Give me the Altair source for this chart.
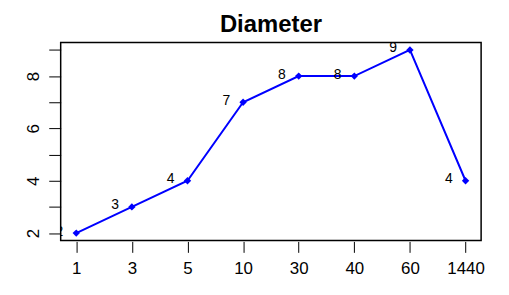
import altair as alt
import pandas as pd

times = ["1", "3", "5", "10", "30", "40", "60", "1440"]
diameter = [2, 3, 4, 7, 8, 8, 9, 4]

df = pd.DataFrame({"time": times, "idx": list(range(len(times))), "d": diameter})

FONT = "Liberation Sans"
W, H = 423, 199

x = alt.X("idx:Q", scale=alt.Scale(domain=[-0.28, 7.28], nice=False, zero=False),
          axis=alt.Axis(values=list(range(len(times))),
                        labelExpr="[" + ",".join('"%s"' % t for t in times) + "][datum.value]",
                        title=None, grid=False, domain=False, tickSize=11, tickColor="black",
                        tickWidth=1, labelFont=FONT, labelFontSize=17, labelColor="black",
                        labelPadding=8, offset=1))
y = alt.Y("d:Q", scale=alt.Scale(domain=[1.72, 9.28], nice=False, zero=False),
          axis=alt.Axis(values=[2, 3, 4, 5, 6, 7, 8, 9], labelExpr="datum.value % 2 == 0 ? datum.label : ''",
                        title=None, grid=False, domain=False, tickSize=12, tickColor="black",
                        tickWidth=1, labelFont=FONT, labelFontSize=17, labelColor="black",
                        labelAngle=270, labelAlign="center", labelBaseline="bottom", labelPadding=6))

base = alt.Chart(df)

line = base.mark_line(color="#0000FF", strokeWidth=2, clip=True).encode(x=x, y=y)
pts = base.mark_point(shape="diamond", filled=True, color="#0000FF", size=55, opacity=1, clip=True).encode(x=x, y=y)
labels = base.mark_text(align="right", baseline="middle", dx=-13, dy=-1.5, font=FONT, fontSize=14,
                        color="black", clip=True).encode(x=x, y=y, text="d:Q")

chart = alt.layer(line, pts, labels).properties(
    width=W, height=H,
    background="white",
    title=alt.TitleParams("Diameter", font=FONT, fontSize=24, fontWeight="bold", color="black",
                          anchor="middle", offset=6),
    autosize=alt.AutoSizeParams(type="none"),
    padding={"left": 53, "top": 34, "right": 20, "bottom": 40},
).configure_view(stroke="black", strokeWidth=1.5, fill="white")

chart.save("out.html", embed_options={"renderer": "svg", "actions": False})
